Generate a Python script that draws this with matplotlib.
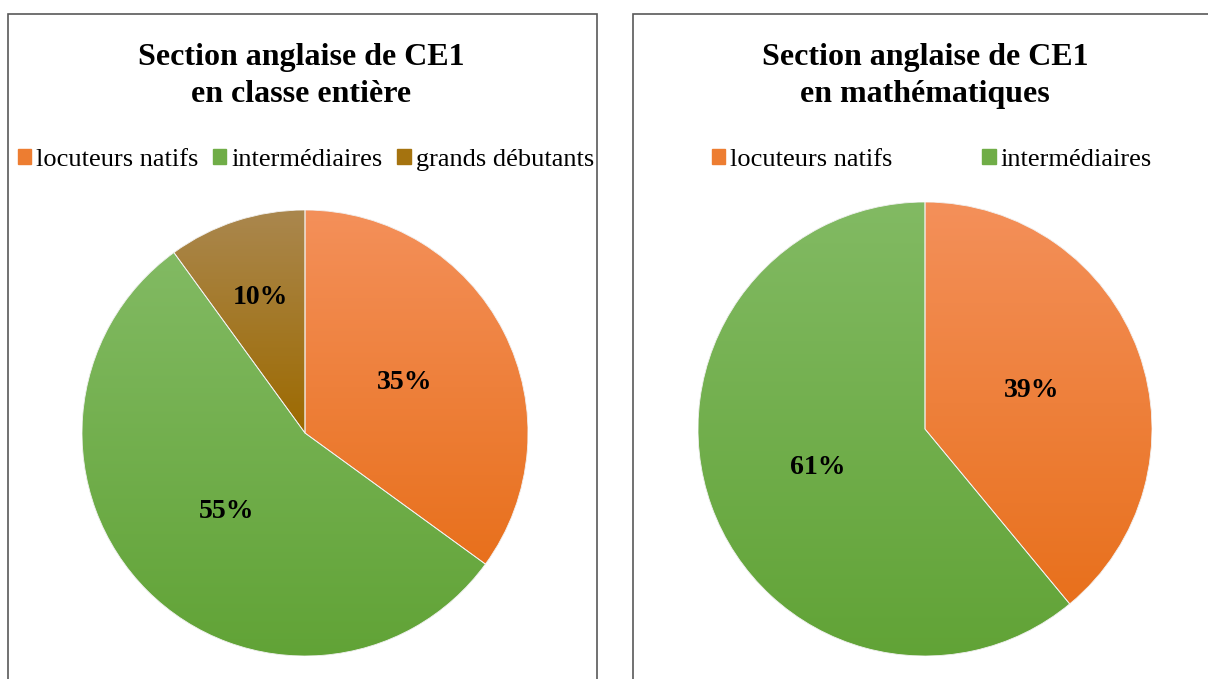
import matplotlib.pyplot as plt
import matplotlib.patches as mpatches
from matplotlib.colors import LinearSegmentedColormap
import numpy as np

plt.rcParams['font.family'] = ['Liberation Serif', 'DejaVu Serif']

W, H = 1208, 679

labels_left = ["locuteurs natifs", "intermédiaires", "grands débutants"]
values_left = [35, 55, 10]
labels_right = ["locuteurs natifs", "intermédiaires"]
values_right = [39, 61]

title_left = "Section anglaise de CE1\nen classe entière"
title_right = "Section anglaise de CE1\nen mathématiques"

# (light top, dark bottom) per category
grads = {
    "locuteurs natifs": ("#F4905A", "#E8701C"),
    "intermédiaires": ("#82BA63", "#61A336"),
    "grands débutants": ("#AA874E", "#9D6A00"),
}
mids = {
    "locuteurs natifs": "#ED7D31",
    "intermédiaires": "#70AD47",
    "grands débutants": "#A5730F",
}


def px_axes(fig, cx, cy, r):
    return fig.add_axes([(cx - r) / W, (H - cy - r) / H, 2 * r / W, 2 * r / H])


def gradient_pie(ax, values, labels):
    colors = [mids[l] for l in labels]
    wedges, texts, autotexts = ax.pie(
        values, colors=colors, startangle=90, counterclock=False,
        autopct=lambda p: f"{p:.0f}%", pctdistance=0.5,
        wedgeprops=dict(edgecolor="white", linewidth=0.6),
        textprops=dict(fontsize=20, fontweight="bold", color="black"))
    for w, l in zip(wedges, labels):
        verts = w.get_path().vertices
        ys = verts[:, 1]
        y0, y1 = ys.min(), ys.max()
        cmap = LinearSegmentedColormap.from_list("g", [grads[l][1], grads[l][0]])
        grad = np.linspace(0, 1, 256).reshape(-1, 1)
        im = ax.imshow(grad, cmap=cmap, extent=[-1.05, 1.05, y0, y1],
                       origin="lower", aspect="auto", zorder=w.get_zorder() + 0.1)
        im.set_clip_path(w)
        edge = mpatches.Wedge(w.center, w.r, w.theta1, w.theta2,
                              facecolor="none", edgecolor="#F2F2F2",
                              linewidth=0.6, zorder=w.get_zorder() + 0.2)
        ax.add_patch(edge)
    for t in autotexts:
        t.set_zorder(5)
    ax.set_xlim(-1, 1)
    ax.set_ylim(-1, 1)
    ax.set_aspect("equal")
    ax.axis("off")
    return wedges, autotexts


def main():
    fig = plt.figure(figsize=(W / 100, H / 100), dpi=100)

    # panel frames
    fig.patches.append(mpatches.Rectangle((8 / W, -0.1), 589 / W, 1.1 - 14 / H,
                                          transform=fig.transFigure, fill=False,
                                          edgecolor="#595959", linewidth=1.2))
    fig.patches.append(mpatches.Rectangle((633 / W, -0.1), 600 / W, 1.1 - 14 / H,
                                          transform=fig.transFigure, fill=False,
                                          edgecolor="#595959", linewidth=1.2))

    ax1 = px_axes(fig, 305, 433, 223)
    w1, a1 = gradient_pie(ax1, values_left, labels_left)
    x, y = a1[2].get_position()
    a1[2].set_position((x * 1.28, y * 1.28))

    ax2 = px_axes(fig, 925, 429, 227)
    w2, a2 = gradient_pie(ax2, values_right, labels_right)

    fig.text(301 / W, 1 - 76 / H, title_left, ha="center", va="center",
             fontsize=23, fontweight="bold", linespacing=1.33)
    fig.text(925 / W, 1 - 76 / H, title_right, ha="center", va="center",
             fontsize=23, fontweight="bold", linespacing=1.33)

    h1 = [mpatches.Patch(color=mids[l]) for l in labels_left]
    fig.legend(h1, labels_left, loc="center", bbox_to_anchor=(306 / W, 1 - 160 / H),
               ncol=3, frameon=False, fontsize=19, handlelength=0.5,
               handleheight=0.5, handletextpad=0.2, columnspacing=0.55,
               borderpad=0, borderaxespad=0)
    h2 = [mpatches.Patch(color=mids[l]) for l in labels_right]
    fig.legend(h2, labels_right, loc="center", bbox_to_anchor=(932 / W, 1 - 160 / H),
               ncol=2, frameon=False, fontsize=19, handlelength=0.5,
               handleheight=0.5, handletextpad=0.2, columnspacing=3.4,
               borderpad=0, borderaxespad=0)

    fig.savefig("out.png", dpi=100)


if __name__ == "__main__":
    main()
